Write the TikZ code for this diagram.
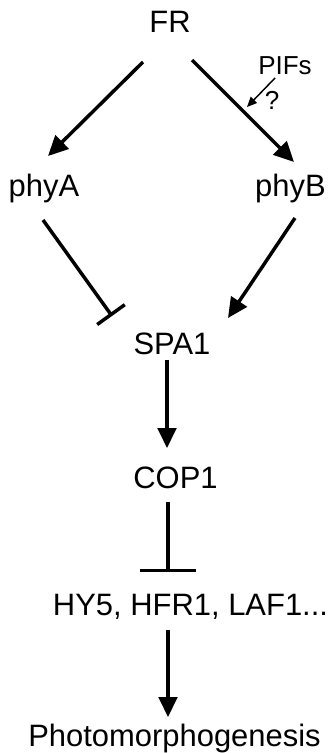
\documentclass[tikz,border=0pt]{standalone}
\usepackage{fontspec}
\setmainfont{Liberation Sans}
\usetikzlibrary{arrows.meta}

\tikzset{every picture/.style={line width=0.75pt}}
\tikzset{
	lbl/.style={inner sep=0pt, anchor=base, font=\fontsize{23.2}{28}\selectfont},
	smalllbl/.style={inner sep=0pt, anchor=base, font=\fontsize{19.5}{23}\selectfont},
	act/.style={line width=2.6pt, -{Triangle[length=15pt,width=14pt]}},
	thinact/.style={line width=1.1pt, -{Triangle[length=7.5pt,width=6.5pt]}},
	inh/.style={line width=2.6pt, -{Bar[width=#1]}}}

\begin{document}
\begin{tikzpicture}[x=0.75pt,y=0.75pt,yscale=-1,xscale=1]
	\useasboundingbox (0,0) rectangle (330,753);

	% Text Node
	\node[lbl] (FR) at (170,32) {FR};
	% Text Node
	\node[smalllbl] (PIFs) at (285,74) {PIFs};
	% Text Node
	\node[smalllbl] (qmark) at (272,109) {?};
	% Text Node
	\node[lbl] (phyA) at (44,196) {phyA};
	% Text Node
	\node[lbl] (phyB) at (290.5,196) {phyB};
	% Text Node
	\node[lbl] (SPA1) at (172,354) {SPA1};
	% Text Node
	\node[lbl] (COP1) at (175.5,488) {COP1};
	% Text Node
	\node[lbl] (HY5) at (190.5,615) {HY5, HFR1, LAF1...};
	% Text Node
	\node[lbl] (photo) at (174.5,746) {Photomorphogenesis};

	%Connector ends
	\coordinate (FR-l) at (143,62);
	\coordinate (FR-r) at (192,60);
	\coordinate (phyA-t) at (48,156);
	\coordinate (phyB-t) at (294,162);
	\coordinate (PIFs-s) at (275,78);
	\coordinate (PIFs-e) at (247,107);
	\coordinate (phyA-b) at (43,220);
	\coordinate (phyB-b) at (295,218);
	\coordinate (SPA1-l) at (112,316);
	\coordinate (SPA1-r) at (228,318);
	\coordinate (SPA1-b) at (167,360);
	\coordinate (COP1-t) at (167,448);
	\coordinate (COP1-b) at (168,502);
	\coordinate (HY5-t) at (168,572);
	\coordinate (HY5-b) at (168,630);
	\coordinate (photo-t) at (168,717);

	%Straight Lines
	\draw[act] (FR-l) -- (phyA-t);
	\draw[act] (FR-r) -- (phyB-t);
	\draw[thinact] (PIFs-s) -- (PIFs-e);
	%Straight Lines
	\draw[inh=25.5pt] (phyA-b) -- (SPA1-l);
	\draw[act] (phyB-b) -- (SPA1-r);
	%Straight Lines
	\draw[act] (SPA1-b) -- (COP1-t);
	\draw[inh=42pt] (COP1-b) -- (HY5-t);
	\draw[act] (HY5-b) -- (photo-t);

\end{tikzpicture}
\end{document}
